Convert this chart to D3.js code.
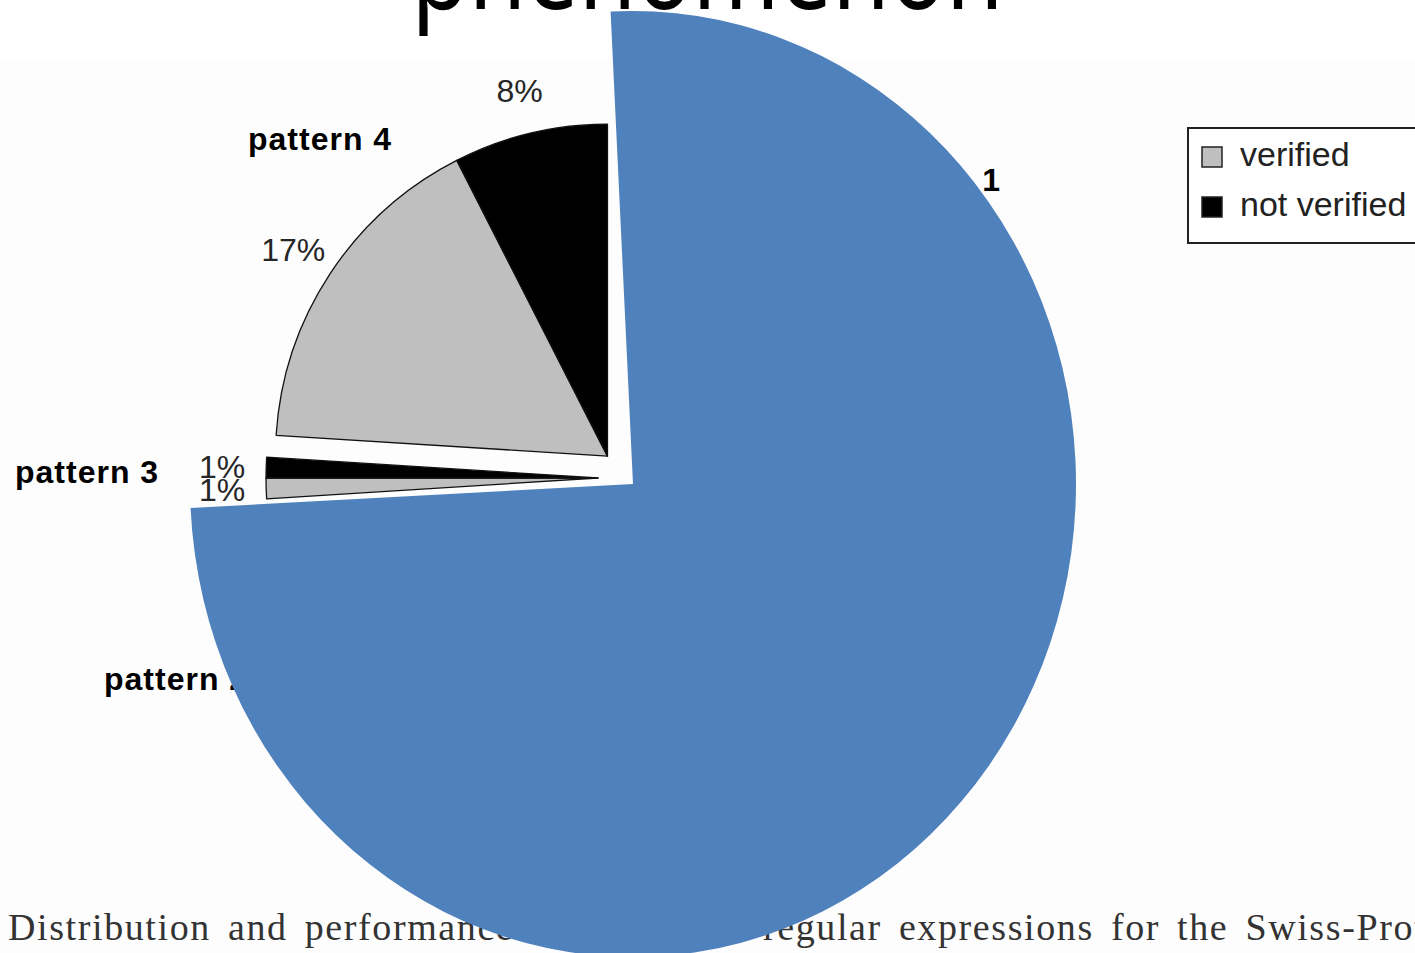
<!DOCTYPE html>
<html>
<head>
<meta charset="utf-8">
<script src="https://cdn.jsdelivr.net/npm/d3@7"></script>
<style>
  html, body { margin: 0; padding: 0; background: #fff; }
  #chart { width: 1415px; height: 953px; overflow: hidden; }
  text { font-family: 'Liberation Sans', Arial, sans-serif; }
</style>
</head>
<body>
<div id="chart"></div>
<script>
// groups of the underlying figure (share in %)
const patterns = ['pattern 1', 'pattern 2', 'pattern 3', 'pattern 4'];
const verifiedShare = [24.5, 38.8, 1.0, 16.5];
const notVerifiedShare = [3.5, 7.2, 1.0, 7.5];
const statusNames = ['verified', 'not verified'];

// pie laid over the figure
const overlayNames = ['covered', 'open'];
const overlayShare = [75, 25];

const titleText = 'phenomenon';
const captionLeft = 'Distribution and performance of the tested';
const captionRight = 'regular expressions for the Swiss-Prot database.';

class PatternPieChart {
  constructor(targetId) {
    this.element = document.getElementById(targetId);
    this.width = 1415;
    this.height = 953;

    this.center = { x: 628, y: 478 };
    this.radius = 332;
    this.explode = 30;
    this.labelRadius = 376;

    this.overlayCenter = { x: 633, y: 484 };
    this.overlayRadius = 443;
    this.overlayStretch = 473 / 443;
    this.overlayStart = -2.9 * Math.PI / 180;

    this.colors = { 'verified': '#bfbfbf', 'not verified': '#000000' };
    this.overlayColor = '#4f81bd';

    // where the group names sit in the figure
    this.nameAnchors = [
      { x: 1001, y: 191, anchor: 'end' },
      { x: 104, y: 690, anchor: 'start' },
      { x: 15, y: 483, anchor: 'start' },
      { x: 248, y: 150, anchor: 'start' },
    ];

    this.svg = null;
  }

  renderChart() {
    this.setChartLayout();
    this.drawFigure();
    this.insertLegend();
    this.insertCaption();
    this.drawOverlay();
    this.insertTitle();
  }

  setChartLayout() {
    d3.select(this.element).select('svg').remove();
    this.svg = d3.select(this.element)
      .append('svg')
      .attr('width', this.width)
      .attr('height', this.height)
      .attr('viewBox', `0 0 ${this.width} ${this.height}`);

    // scanned page background
    this.svg.append('rect')
      .attr('x', 0)
      .attr('y', 58)
      .attr('width', this.width)
      .attr('height', this.height - 58)
      .attr('fill', '#fdfdfd');
  }

  // exploded grey / black pie
  drawFigure() {
    const slices = [];
    patterns.forEach((p, i) => {
      slices.push({ pattern: p, index: i, status: statusNames[0], value: verifiedShare[i] });
      slices.push({ pattern: p, index: i, status: statusNames[1], value: notVerifiedShare[i] });
    });

    const pie = d3.pie().sort(null).value(d => d.value);
    const arcs = pie(slices);

    const arc = d3.arc().innerRadius(0).outerRadius(this.radius);
    const labelArc = d3.arc().innerRadius(this.labelRadius).outerRadius(this.labelRadius);
    const fmt = d3.format('.0f');

    const groups = patterns.map((p, i) => {
      const parts = arcs.filter(a => a.data.index === i);
      const start = parts[0].startAngle;
      const end = parts[parts.length - 1].endAngle;
      const mid = (start + end) / 2;
      return {
        pattern: p,
        parts: parts,
        dx: this.center.x + this.explode * Math.sin(mid),
        dy: this.center.y - this.explode * Math.cos(mid),
      };
    });

    const g = this.svg.append('g').attr('class', 'figure');

    const groupSel = g.selectAll('.pattern')
      .data(groups)
      .enter()
      .append('g')
      .attr('class', 'pattern')
      .attr('transform', d => `translate(${d.dx}, ${d.dy})`);

    groupSel.selectAll('path')
      .data(d => d.parts)
      .enter()
      .append('path')
      .attr('d', arc)
      .attr('fill', d => this.colors[d.data.status])
      .attr('stroke', '#111')
      .attr('stroke-width', 1.3)
      .attr('stroke-linejoin', 'round');

    groupSel.selectAll('.pct')
      .data(d => d.parts)
      .enter()
      .append('text')
      .attr('class', 'pct')
      .attr('transform', d => `translate(${labelArc.centroid(d)})`)
      .attr('text-anchor', 'middle')
      .attr('dy', '0.36em')
      .attr('font-size', 32)
      .attr('fill', '#262626')
      .text(d => fmt(d.data.value) + '%');

    // group names
    g.selectAll('.pattern-name')
      .data(patterns)
      .enter()
      .append('text')
      .attr('class', 'pattern-name')
      .attr('x', (d, i) => this.nameAnchors[i].x)
      .attr('y', (d, i) => this.nameAnchors[i].y)
      .attr('text-anchor', (d, i) => this.nameAnchors[i].anchor)
      .attr('font-size', 32)
      .attr('font-weight', 'bold')
      .attr('letter-spacing', 1)
      .attr('fill', '#000')
      .text(d => d);
  }

  insertLegend() {
    const legend = this.svg.append('g')
      .attr('class', 'legend')
      .attr('transform', 'translate(1188, 128)');

    legend.append('rect')
      .attr('width', 260)
      .attr('height', 115)
      .attr('fill', '#fff')
      .attr('stroke', '#222')
      .attr('stroke-width', 2);

    const item = legend.selectAll('.item')
      .data(statusNames)
      .enter()
      .append('g')
      .attr('class', 'item')
      .attr('transform', (d, i) => `translate(14, ${19 + i * 50})`);

    item.append('rect')
      .attr('width', 20)
      .attr('height', 20)
      .attr('fill', d => this.colors[d])
      .attr('stroke', '#222')
      .attr('stroke-width', 1.5);

    item.append('text')
      .attr('x', 38)
      .attr('y', 19)
      .attr('font-size', 34)
      .attr('fill', '#222')
      .text(d => d);
  }

  insertCaption() {
    const cap = this.svg.append('g').attr('class', 'caption');

    cap.append('text')
      .attr('x', 8)
      .attr('y', 940)
      .attr('font-size', 38)
      .attr('letter-spacing', 1.6)
      .attr('word-spacing', 6)
      .attr('fill', '#333')
      .style('font-family', "'Liberation Serif', serif")
      .text(captionLeft);

    cap.append('text')
      .attr('x', 763)
      .attr('y', 940)
      .attr('font-size', 38)
      .attr('letter-spacing', 1.6)
      .attr('word-spacing', 6)
      .attr('fill', '#333')
      .style('font-family', "'Liberation Serif', serif")
      .text(captionRight);
  }

  // blue pie on top, its open slice shows the figure below
  drawOverlay() {
    const pie = d3.pie()
      .sort(null)
      .startAngle(this.overlayStart)
      .endAngle(this.overlayStart + 2 * Math.PI);

    const arc = d3.arc().innerRadius(0).outerRadius(this.overlayRadius);

    const rows = overlayNames.map((n, i) => ({ name: n, value: overlayShare[i] }));

    this.svg.append('g')
      .attr('class', 'overlay')
      .attr('transform', `translate(${this.overlayCenter.x}, ${this.overlayCenter.y}) scale(1, ${this.overlayStretch})`)
      .selectAll('path')
      .data(pie.value(d => d.value)(rows))
      .enter()
      .append('path')
      .attr('d', arc)
      .attr('fill', (d, i) => (i === 0 ? this.overlayColor : 'none'));
  }

  insertTitle() {
    this.svg.append('text')
      .attr('x', this.width / 2)
      .attr('y', 9)
      .attr('text-anchor', 'middle')
      .attr('font-size', 112)
      .attr('textLength', 592)
      .attr('lengthAdjust', 'spacingAndGlyphs')
      .attr('fill', '#000')
      .style('font-family', "'Noto Sans', sans-serif")
      .text(titleText);
  }
}

const chart = new PatternPieChart('chart');
chart.renderChart();
</script>
</body>
</html>
